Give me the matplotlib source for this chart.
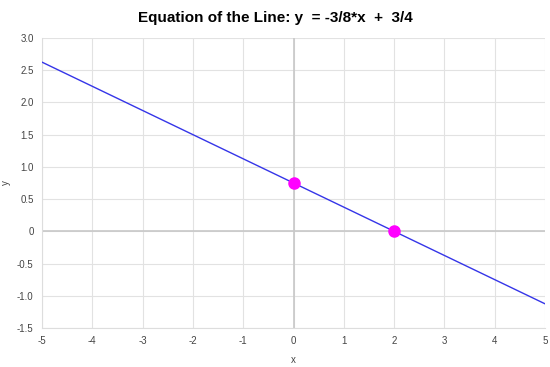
import matplotlib
matplotlib.use("Agg")
import matplotlib.pyplot as plt

# line y = -3/8*x + 3/4
x_line = [-5, 5]
y_line = [2.625, -1.125]
pts_x = [0, 2]
pts_y = [0.75, 0]
xticks = [-5, -4, -3, -2, -1, 0, 1, 2, 3, 4, 5]
yticks = [-1.5, -1.0, -0.5, 0, 0.5, 1.0, 1.5, 2.0, 2.5, 3.0]

plt.rcParams['font.family'] = ['Liberation Sans', 'DejaVu Sans']

fig = plt.figure(figsize=(5.5, 3.67), dpi=100)
ax = fig.add_axes([0.0764, 0.1063, 0.9146, 0.7902])

ax.set_xlim(-5, 5)
ax.set_ylim(-1.5, 3.0)
ax.set_xticks(xticks)
ax.set_yticks(yticks)
ax.set_xticklabels([str(t) for t in xticks])
ax.set_yticklabels(["%.1f" % t if t != 0 else "0" for t in yticks])
ax.grid(True, color="#e2e2e2", linewidth=0.8)
ax.set_axisbelow(True)
ax.axhline(0, color="#c8c8c8", linewidth=1.2, zorder=1)
ax.axvline(0, color="#c8c8c8", linewidth=1.2, zorder=1)
for s in ["top", "right"]:
    ax.spines[s].set_visible(False)
for s in ["left", "bottom"]:
    ax.spines[s].set_color("#dddddd")
ax.tick_params(length=0, labelsize=7, colors="#444444", pad=6)

ax.plot(x_line, y_line, color="#3535e8", linewidth=1, zorder=3)
ax.plot(pts_x, pts_y, "o", color="#ff00ff", markersize=8, zorder=4)

ax.set_xlabel("x", fontsize=7, color="#444444", labelpad=6)
ax.set_ylabel("y", fontsize=7, color="#444444")
ax.yaxis.set_label_coords(-0.062, 0.5)
fig.suptitle("Equation of the Line: y  = -3/8*x  +  3/4", fontsize=11, fontweight="bold", y=0.97)

fig.savefig("out.png", dpi=100)
